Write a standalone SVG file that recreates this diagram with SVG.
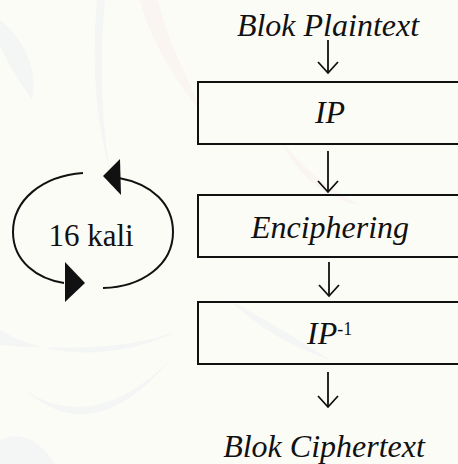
<svg xmlns="http://www.w3.org/2000/svg" width="458" height="464" viewBox="0 0 458 464">
  <defs>
    <style>
      .box { fill: none; stroke: #111; stroke-width: 2; }
      .flow { fill: none; stroke: #111; stroke-width: 1.8; }
      .head { fill: none; stroke: #111; stroke-width: 1.8; stroke-linejoin: miter; }
      .loop { fill: none; stroke: #111; stroke-width: 2; }
      .tri { fill: #111; stroke: none; }
      .leaf { fill: #eef0f3; opacity: 0.6; }
      .leaf-rose { fill: #f8eeee; opacity: 0.5; }
      text { fill: #111; }
    </style>
  </defs>

  <!-- paper with faint leaf pattern -->
  <rect width="458" height="464" fill="#fcfcf7"/>
  <g id="backdrop">
    <path class="leaf" d="M0,20 C25,40 38,70 32,100 C18,80 6,60 0,45 Z"/>
    <path class="leaf" d="M97,0 C92,60 95,120 110,170 C100,110 100,50 105,0 Z"/>
    <path class="leaf-rose" d="M140,0 C150,40 175,80 200,110 C185,70 165,35 158,0 Z"/>
    <path class="leaf" d="M0,330 C50,360 120,360 180,330 C130,350 60,350 0,345 Z"/>
    <path class="leaf" d="M25,390 C70,420 120,410 170,360 C120,420 70,430 25,390 Z"/>
    <path class="leaf" d="M0,440 C20,430 40,440 55,464 L0,464 Z"/>
    <path class="leaf" d="M230,300 C260,330 300,350 330,360 C300,340 265,320 230,300 Z"/>
    <path class="leaf-rose" d="M280,140 C300,180 330,200 360,205 C330,190 305,170 280,140 Z"/>
  </g>

  <g font-family="'Liberation Serif', 'Times New Roman', serif">
    <!-- input / output labels -->
    <g id="input">
      <text x="328" y="36" font-size="32" font-style="italic" text-anchor="middle">Blok Plaintext</text>
    </g>
    <g id="output">
      <text x="324" y="457" font-size="32" font-style="italic" text-anchor="middle">Blok Ciphertext</text>
    </g>

    <!-- processing stages (boxes run off the right edge) -->
    <g id="ip">
      <rect class="box" x="198" y="82" width="270" height="62"/>
      <text x="330" y="123" font-size="32" font-style="italic" text-anchor="middle">IP</text>
    </g>
    <g id="enciphering">
      <rect class="box" x="198" y="195" width="270" height="62"/>
      <text x="330" y="238" font-size="32" font-style="italic" text-anchor="middle">Enciphering</text>
    </g>
    <g id="ip-inverse">
      <rect class="box" x="198" y="302" width="270" height="62"/>
      <text x="307" y="344" font-size="32" font-style="italic">IP<tspan dy="-9" font-size="18" font-style="normal">-1</tspan></text>
    </g>

    <!-- round loop -->
    <g id="loop">
      <path class="loop" d="M83,173 C42,176 13,200 13,232 C13,262 38,279 64,283"/>
      <polygon class="tri" points="65,262 85,283 65,302"/>
      <path class="loop" d="M103,288 C142,287 173,265 173,232 C173,204 152,184 119,178"/>
      <polygon class="tri" points="103,176 120,159 121,195"/>
      <text x="91" y="246" font-size="31" text-anchor="middle">16 kali</text>
    </g>
  </g>

  <!-- connectors -->
  <g id="connectors">
    <line class="flow" x1="328" y1="40" x2="328" y2="73"/>
    <polyline class="head" points="318,62 328,73 338,62"/>
    <line class="flow" x1="328" y1="151" x2="328" y2="192"/>
    <polyline class="head" points="318,181 328,192 338,181"/>
    <line class="flow" x1="329" y1="262" x2="329" y2="296"/>
    <polyline class="head" points="319,285 329,296 339,285"/>
    <line class="flow" x1="328" y1="372" x2="328" y2="407"/>
    <polyline class="head" points="318,396 328,407 338,396"/>
  </g>
</svg>
